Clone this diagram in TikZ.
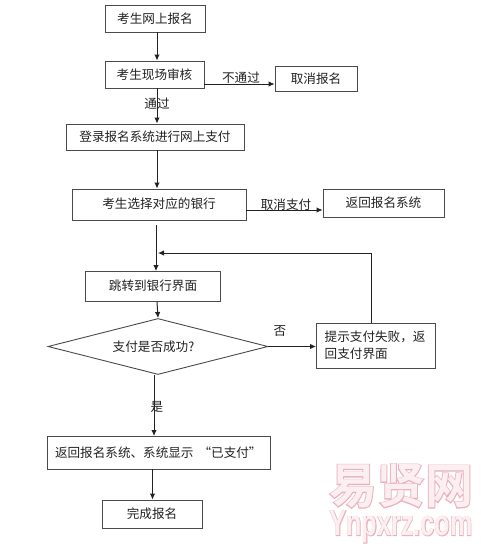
\documentclass[tikz,border=0pt]{standalone}
\usepackage{fontspec}
\setmainfont{Noto Sans CJK SC}
\newfontfamily\wmfont[FakeBold=3.5]{Noto Sans CJK SC Bold}
\newfontfamily\wminner{Noto Sans CJK SC Bold}
\newfontfamily\wmlat[FakeBold=2.5,FakeStretch=0.70]{Liberation Sans Bold}
\newfontfamily\wmlatin[FakeStretch=0.70]{Liberation Sans Bold}
\usetikzlibrary{shapes.geometric,arrows.meta,positioning}
\definecolor{ink}{HTML}{222222}
\definecolor{edge}{HTML}{4A4A4A}
\definecolor{wmout}{HTML}{EBB0BB}
\definecolor{wmin}{HTML}{FBEFF1}
\tikzset{
  box/.style={draw=edge,line width=0.9pt,rectangle,inner sep=0pt,text=ink,font=\fontsize{12.6}{17}\selectfont,align=center},
  dec/.style={draw=edge,line width=0.9pt,diamond,aspect=3.93,inner sep=0pt,text=ink,font=\fontsize{12.6}{17}\selectfont},
  lab/.style={inner sep=0pt,text=ink,font=\fontsize{12.6}{15}\selectfont},
  conn/.style={draw=ink,line width=1pt,-{Latex[length=6pt,width=5.5pt]}},
  wmark/.style={inner sep=0pt},
}
\begin{document}
\begin{tikzpicture}[x=1pt,y=-1pt]
\useasboundingbox (0,0) rectangle (481,549);
\fill[white] (0,0) rectangle (481,549);
% boxes
\node[box,minimum width=100pt,minimum height=27pt] (b1) at (155,18.5) {考生网上报名};
\node[box,minimum width=99pt,minimum height=27pt] (b2) at (154.5,74.5) {考生现场审核};
\node[box,minimum width=82pt,minimum height=25pt] (cancel) at (316,78.5) {取消报名};
\node[box,minimum width=178pt,minimum height=26pt] (b3) at (155,137) {登录报名系统进行网上支付};
\node[box,minimum width=174pt,minimum height=31pt] (b4) at (159,204.5) {\raisebox{3pt}{考生选择对应的银行}};
\node[box,minimum width=121pt,minimum height=28pt] (ret) at (383.5,203) {返回报名系统};
\node[box,minimum width=135pt,minimum height=30pt] (b5) at (153,286.5) {\raisebox{2pt}{跳转到银行界面}};
\node[dec,minimum width=220pt,minimum height=56pt] (dec) at (158,346.5) {\hspace*{-9pt}支付是否成功?};
\node[box,minimum width=118.5pt,minimum height=45pt,text width=102pt,align=left] (fail) at (375.7,345.5) {提示支付失败，返\\回支付界面};
\node[box,minimum width=223pt,minimum height=32.5pt,text width=207pt,align=left] (b6) at (158.5,452.7) {\raisebox{2pt}{返回报名系统、系统显示\hspace{5pt}“已支付”\hspace{4pt}}};
\node[box,minimum width=100pt,minimum height=28pt] (b7) at (152,514) {完成报名};
% free points and columns
\coordinate (c157) at (157,0);
\coordinate (c154) at (154,0);
\coordinate (c152) at (152.5,0);
\coordinate (c371) at (371,0);
\coordinate (start) at (156,225);
\coordinate (join) at (158,253);
\coordinate (corner) at (371,253);
\coordinate (y84) at (0,84);
\coordinate (y210) at (0,210);
% connectors
\draw[conn] (c157 |- b1.south) -- (c157 |- b2.north);
\draw[conn] (c157 |- b2.south) -- (c157 |- b3.north);
\draw[conn] (c157 |- b3.south) -- (c157 |- b4.north);
\draw[conn] (b2.east |- y84) -- (cancel.west |- y84);
\draw[conn] (b4.east |- y210) -- (ret.west |- y210);
\draw[conn] (start) -- (start |- b5.north);
\draw[conn] (c157 |- b5.south) -- (dec.north);
\draw[conn] (dec.east) -- (fail.west |- dec.east);
\draw[conn] (c371 |- fail.north) -- (corner) -- (join);
\draw[conn] (c154 |- dec.south) -- (c154 |- b6.north);
\draw[conn] (c152 |- b6.south) -- (c152 |- b7.north);
% labels
\node[lab] (l1) at (241,78) {不通过};
\node[lab] (l2) at (157,104) {通过};
\node[lab] (l3) at (286,205) {取消支付};
\node[lab] (l4) at (280,331) {否};
\node[lab] (l5) at (157,407) {是};
% watermark
\node[wmark] (wm1) at (401,486) {\fontsize{48}{48}\selectfont\rlap{\color{wmout}\wmfont 易贤网}{\color{wmin}\wminner 易贤网}};
\node[wmark] (wm2) at (401,527) {\fontsize{36}{36}\selectfont\rlap{\color{wmout}\wmlat Ynpxrz.com}{\color{wmin}\wmlatin Ynpxrz.com}};
\end{tikzpicture}
\end{document}
